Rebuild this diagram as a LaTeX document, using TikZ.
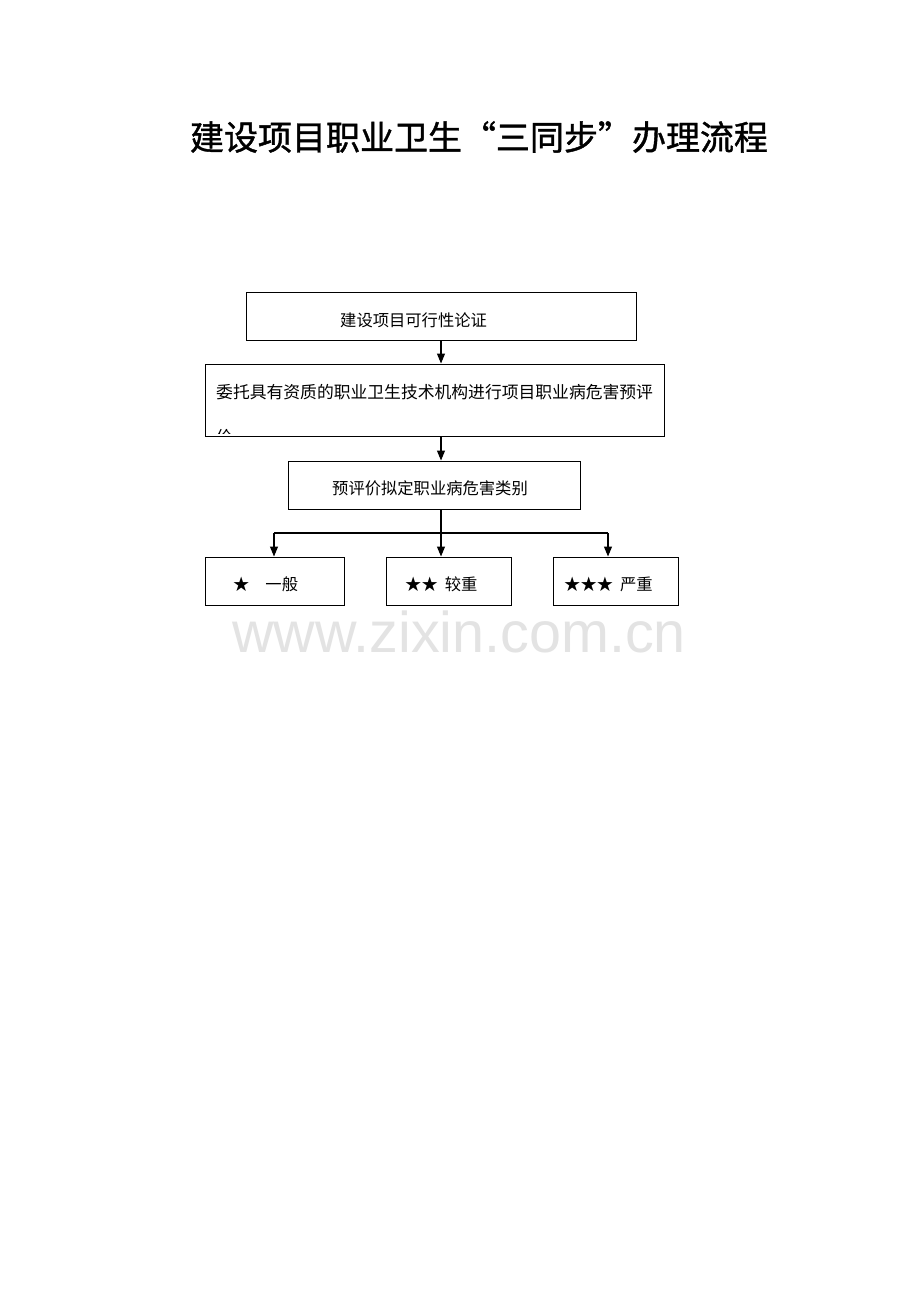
\documentclass[tikz,border=0pt]{standalone}
\usepackage{fontspec}
\newfontfamily\cjk{Noto Sans CJK SC}
\newfontfamily\cjkt[FakeBold=1.2]{Noto Sans CJK SC}
\newfontfamily\wm{Liberation Sans}
\usetikzlibrary{arrows.meta}
\tikzset{
  box/.style={draw=black, line width=1pt, rectangle, inner sep=0pt, fill=white},
  lbl/.style={anchor=west, inner sep=0pt, font=\cjk\fontsize{16.3}{18}\selectfont},
  conn/.style={line width=1.1pt, -{Triangle[length=10pt,width=8pt]}},
  plain/.style={line width=1.1pt}
}
\begin{document}
\begin{tikzpicture}[x=1pt,y=-1pt]
\path[use as bounding box, fill=white] (0,0) rectangle (920,1302);
% title
\node[inner sep=0pt, font=\cjkt\fontsize{34}{38}\selectfont] (title) at (479,137) {建设项目职业卫生“三同步”办理流程};
% watermark
\node[anchor=base west, inner sep=0pt, text=black!11, font=\wm\fontsize{57.5}{60}\selectfont] (wmk) at (232,652) {www.zixin.com.cn};
% boxes
\node[box, minimum width=390pt, minimum height=48pt] (b1) at (441,316) {};
\node[box, minimum width=459pt, minimum height=72pt] (b2) at (434.5,400) {};
\node[box, minimum width=292pt, minimum height=48pt] (b3) at (434,485) {};
\node[box, minimum width=139pt, minimum height=48pt] (b4) at (274.5,581) {};
\node[box, minimum width=125pt, minimum height=48pt] (b5) at (448.5,581) {};
\node[box, minimum width=125pt, minimum height=48pt] (b6) at (615.5,581) {};
% labels
\node[lbl] (t1) at (340,320) {建设项目可行性论证};
\node[lbl, font=\cjk\fontsize{16.8}{18}\selectfont] (t2) at (216,392) {委托具有资质的职业卫生技术机构进行项目职业病危害预评};
\begin{scope}
\clip (206,420) rectangle (663,433);
\node[lbl, font=\cjk\fontsize{16.8}{18}\selectfont] (t2b) at (216,437) {价};
\end{scope}
\node[lbl] (t3) at (332,488) {预评价拟定职业病危害类别};
\node[lbl] (t4) at (233,584) {★\hspace{16pt}一般};
\node[lbl] (t5) at (405,584) {★★\hspace{7pt}较重};
\node[lbl] (t6) at (564,584) {★★★\hspace{7pt}严重};
% connectors
\draw[conn] (b1.south -| 441,0) -- (b2.north -| 441,0);
\draw[conn] (b2.south -| 441,0) -- (b3.north -| 441,0);
\coordinate (split) at (441,533);
\coordinate (sl) at (274,533);
\coordinate (sr) at (608,533);
\draw[plain] (b3.south -| split) -- (split);
\draw[plain] (sl) -- (sr);
\draw[conn] (sl) -- (b4.north -| sl);
\draw[conn] (split) -- (b5.north -| split);
\draw[conn] (sr) -- (b6.north -| sr);
\end{tikzpicture}
\end{document}
